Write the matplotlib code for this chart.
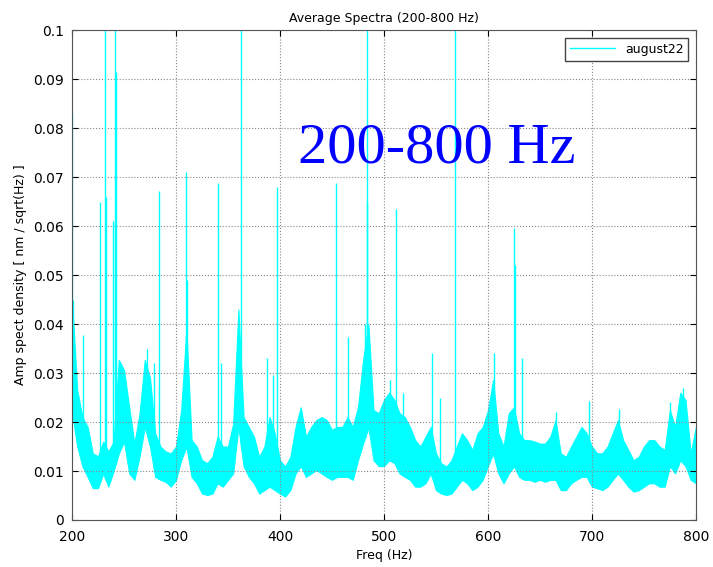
import numpy as np
import matplotlib
matplotlib.use("Agg")
import matplotlib.pyplot as plt

# Spectrum band: frequency grid (Hz) with lower / upper envelope (nm/sqrt(Hz))
freq = np.arange(200, 805, 5)
env_low = [0.022, 0.015, 0.011, 0.0088, 0.0065, 0.0065, 0.0095, 0.0068, 0.010, 0.0136,
           0.016, 0.0095, 0.0082, 0.013, 0.019, 0.015, 0.0088, 0.0082, 0.0078, 0.0068,
           0.0082, 0.0122, 0.015, 0.0088, 0.0075, 0.0054, 0.0051, 0.0054, 0.0075, 0.0068,
           0.0082, 0.0095, 0.019, 0.011, 0.0088, 0.0075, 0.0054, 0.0061, 0.0068, 0.0061,
           0.0054, 0.0048, 0.0061, 0.0095, 0.011, 0.0088, 0.0095, 0.0102, 0.0095, 0.0088,
           0.0082, 0.0088, 0.0088, 0.0088, 0.0082, 0.0122, 0.0156, 0.019, 0.0122, 0.011,
           0.011, 0.0122, 0.0116, 0.0095, 0.0088, 0.0082, 0.0068, 0.0068, 0.0075, 0.0095,
           0.0061, 0.0054, 0.0051, 0.0054, 0.0068, 0.0082, 0.0075, 0.0061, 0.0068, 0.0082,
           0.011, 0.0136, 0.0095, 0.0075, 0.0095, 0.011, 0.0088, 0.0082, 0.0082, 0.0078,
           0.0082, 0.0078, 0.0082, 0.0082, 0.0061, 0.0061, 0.0075, 0.0082, 0.0088, 0.0088,
           0.0068, 0.0065, 0.0061, 0.0068, 0.0082, 0.0095, 0.0082, 0.0068, 0.0058, 0.0061,
           0.0068, 0.0075, 0.0075, 0.0068, 0.0068, 0.011, 0.0095, 0.0122, 0.011, 0.0082,
           0.0075]
env_high = [0.045, 0.0265, 0.021, 0.019, 0.0136, 0.013, 0.016, 0.014, 0.016, 0.0327,
            0.0306, 0.023, 0.0156, 0.0218, 0.0327, 0.029, 0.0177, 0.015, 0.014, 0.0136,
            0.015, 0.0224, 0.039, 0.0163, 0.015, 0.0122, 0.0116, 0.0129, 0.017, 0.015,
            0.015, 0.0197, 0.043, 0.021, 0.019, 0.017, 0.0129, 0.015, 0.021, 0.0177,
            0.0122, 0.0109, 0.0129, 0.019, 0.023, 0.017, 0.019, 0.0204, 0.021, 0.0204,
            0.0184, 0.019, 0.019, 0.021, 0.019, 0.023, 0.0327, 0.040, 0.0224, 0.0218,
            0.0245, 0.026, 0.0245, 0.0218, 0.021, 0.019, 0.0163, 0.015, 0.017, 0.019,
            0.0136, 0.0116, 0.0109, 0.0122, 0.015, 0.0177, 0.0163, 0.0143, 0.0177, 0.019,
            0.0224, 0.0286, 0.0177, 0.015, 0.0218, 0.023, 0.0177, 0.0163, 0.0163, 0.016,
            0.0156, 0.0156, 0.017, 0.0204, 0.0136, 0.0129, 0.015, 0.017, 0.019, 0.0177,
            0.015, 0.0136, 0.0136, 0.015, 0.0177, 0.0204, 0.0163, 0.0143, 0.0122, 0.0129,
            0.015, 0.0163, 0.0163, 0.015, 0.0143, 0.0224, 0.019, 0.026, 0.0245, 0.0136,
            0.019]

# Narrow lines sticking out of the band
peak_freq = [200.3, 201, 211, 227.2, 232, 233, 239.7, 241.7, 242, 271.8, 279, 284,
             309.6, 310.5, 340.7, 343.6, 362.5, 387.8, 393, 397.4, 454.1, 465.7, 481.8,
             483.3, 484, 505.8, 511.2, 518.3, 546.5, 553.5, 568.3, 605.8, 625.3, 626,
             633, 665.5, 697.4, 726, 774.7, 788]
peak_amp = [0.083, 0.045, 0.0378, 0.065, 0.1, 0.066, 0.061, 0.1, 0.0915, 0.035, 0.032,
            0.0672, 0.071, 0.049, 0.0687, 0.032, 0.1, 0.033, 0.0295, 0.068, 0.0687, 0.0374,
            0.040, 0.1, 0.065, 0.0285, 0.0634, 0.026, 0.034, 0.025, 0.1, 0.034, 0.0595,
            0.052, 0.033, 0.022, 0.0243, 0.0227, 0.024, 0.027]

cyan = "#00FFFF"

fig = plt.figure(figsize=(7.13, 5.67), dpi=100)
ax = fig.add_axes([0.101, 0.0829, 0.875, 0.8641])

ax.fill_between(freq, env_low, env_high, color=cyan, linewidth=0.8, edgecolor=cyan)
base = np.interp(peak_freq, freq, env_low)
ax.vlines(peak_freq, base, peak_amp, color=cyan, linewidth=1.0)
ax.plot([], [], color=cyan, linewidth=1.0, label="august22")

ax.set_xlim(200, 800)
ax.set_ylim(0, 0.1)
ax.set_xticks(range(200, 801, 100))
yt = np.arange(0, 0.101, 0.01)
ax.set_yticks(yt)
ax.set_yticklabels(["0"] + ["%g" % round(v, 2) for v in yt[1:]])
ax.tick_params(direction="in", top=True, right=True, labelsize=10, length=4)
ax.tick_params(axis="x", pad=7)
ax.tick_params(axis="y", pad=6)
ax.grid(True, linestyle=":", color="#888888", linewidth=0.8)
for s in ax.spines.values():
    s.set_color("#555555")

ax.set_title("Average Spectra (200-800 Hz)", fontsize=9)
ax.set_xlabel("Freq (Hz)", fontsize=9)
ax.set_ylabel("Amp spect density [ nm / sqrt(Hz) ]", fontsize=9)

ax.text(551, 0.0759, "200-800 Hz", color="blue", fontsize=42,
        family="Liberation Serif", ha="center", va="center")

leg = ax.legend(loc="upper right", fontsize=9, fancybox=False, framealpha=1,
                borderaxespad=0.6, handlelength=3.6)
leg.get_frame().set_edgecolor("#444444")

fig.savefig("out.png", dpi=100)
